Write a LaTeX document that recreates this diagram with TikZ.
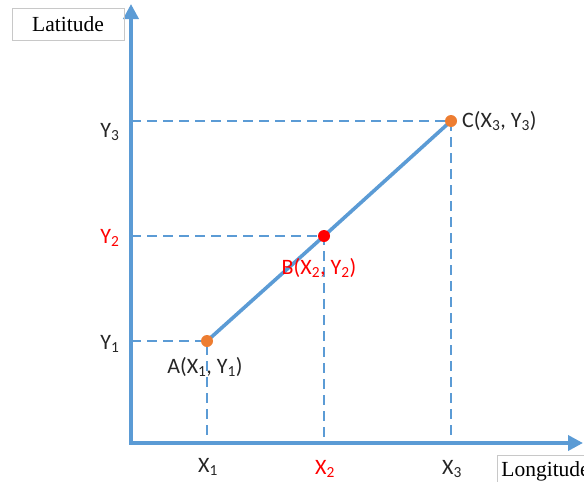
\documentclass[tikz,border=0pt]{standalone}
\usepackage{fontspec}
\setmainfont{Liberation Serif}
\setsansfont{Carlito}
\usetikzlibrary{arrows.meta}
\definecolor{AxBlue}{HTML}{5B9BD5}
\definecolor{PtOrange}{HTML}{ED7D31}
\definecolor{PtRed}{HTML}{FF0000}
\definecolor{LabGrey}{HTML}{262626}
\definecolor{BoxGrey}{HTML}{C8C8C8}

\begin{document}
\begin{tikzpicture}[x=1pt,y=-1pt,
  axis/.style={line width=3.6pt,draw=AxBlue,-{Triangle[length=15pt,width=15pt]}},
  guide/.style={line width=2.3pt,draw=AxBlue,dash pattern=on 10pt off 6pt},
  route/.style={line width=3.6pt,draw=AxBlue},
  dot/.style={circle,inner sep=0pt,minimum size=12pt},
  lab/.style={font=\sffamily\fontsize{22}{26}\selectfont,text=LabGrey,inner sep=1pt},
  namebox/.style={draw=BoxGrey,line width=0.8pt,font=\fontsize{21.5}{25}\selectfont,text=black,inner sep=0pt}]
  \useasboundingbox (0,0) rectangle (584,482);
  % points and axis feet
  \coordinate (pA) at (207,341);
  \coordinate (pB) at (324,236);
  \coordinate (pC) at (451,121);
  \coordinate (ox) at (131,443);
  \coordinate (ax1) at (207,443);
  \coordinate (ax2) at (324,443);
  \coordinate (ax3) at (451,443);
  \coordinate (ay1) at (131,341);
  \coordinate (ay2) at (131,236);
  \coordinate (ay3) at (131,121);
  \coordinate (xend) at (583,443);
  \coordinate (yend) at (131,4);
  % guides
  \foreach \i in {1,2,3}
    \draw[guide] (ay\i) -- (p\ifcase\i\or A\or B\or C\fi) -- (ax\i);
  % axes
  \draw[axis] ([yshift=2pt]ox) -- (yend);
  \draw[axis] ([xshift=-2pt]ox) -- (xend);
  \draw[route] (pA) -- (pB) -- (pC);
  \node[dot,fill=PtOrange] (A) at (pA) {};
  \node[dot,fill=PtRed] (B) at (pB) {};
  \node[dot,fill=PtOrange] (C) at (pC) {};
  % labels
  \node[lab] (labA) at (205,367) {A(X\textsubscript{1}, Y\textsubscript{1})};
  \node[lab,text=PtRed] (labB) at (319,268) {B(X\textsubscript{2}, Y\textsubscript{2})};
  \node[lab,anchor=west] (labC) at (461,121) {C(X\textsubscript{3}, Y\textsubscript{3})};
  \node[lab] (y1) at (110,344) {Y\textsubscript{1}};
  \node[lab,text=PtRed] (y2) at (110,238) {Y\textsubscript{2}};
  \node[lab] (y3) at (110,132) {Y\textsubscript{3}};
  \node[lab] (x1) at (208,467) {X\textsubscript{1}};
  \node[lab,text=PtRed] (x2) at (325,469) {X\textsubscript{2}};
  \node[lab] (x3) at (452,469) {X\textsubscript{3}};
  \node[namebox,minimum width=112pt,minimum height=32pt] (lat) at (68,24) {Latitude};
  \node[namebox,anchor=north west,minimum width=100pt,minimum height=32pt,
    text width=96pt,align=left] (lon) at (497,455) {\hspace*{2pt}Longitude};
\end{tikzpicture}
\end{document}
